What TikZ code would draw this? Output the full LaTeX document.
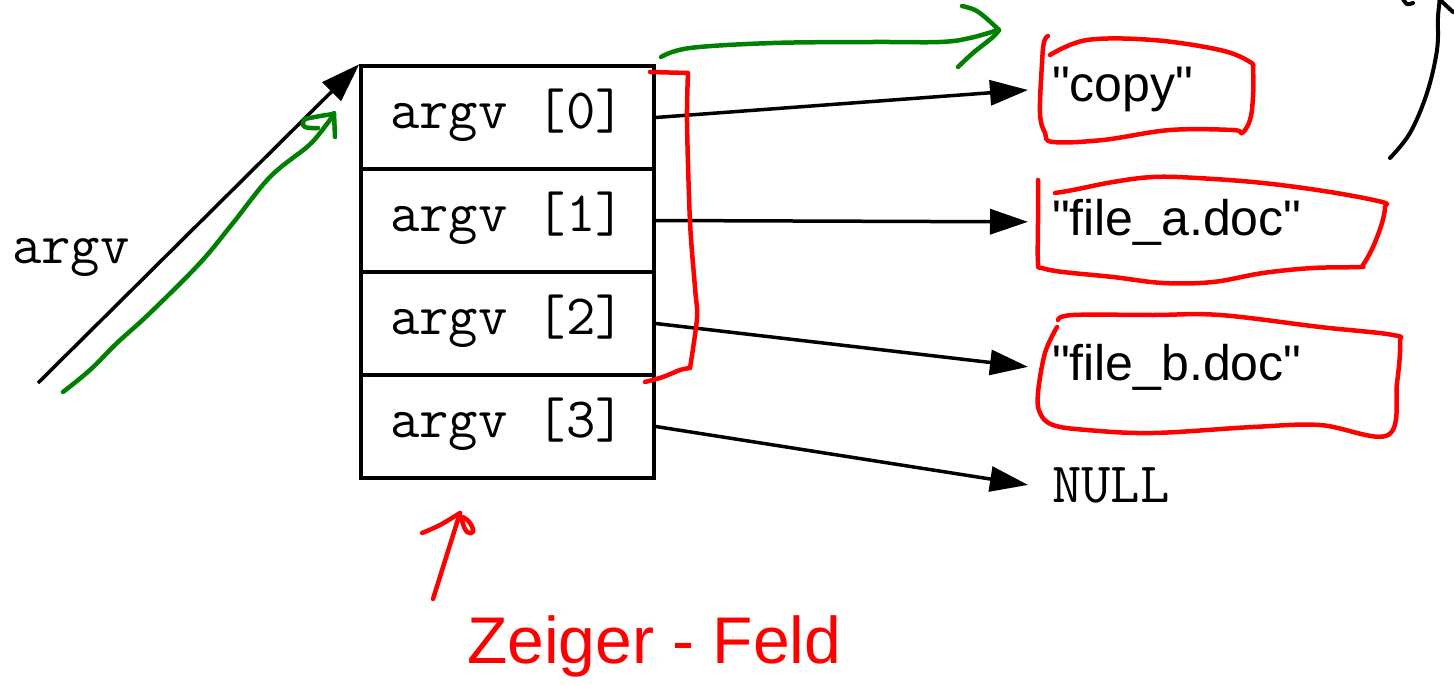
\documentclass[tikz,border=0pt]{standalone}
\usepackage{fontspec}
\setmainfont{Liberation Sans}[Ligatures=TeXOff]
\usetikzlibrary{arrows.meta}

\tikzset{
  cell/.style={draw, line width=3.5pt, minimum width=293pt, inner xsep=0pt,
    inner ysep=0pt, text height=62pt, text depth=41pt, font=\ttfamily\fontsize{57}{64}\selectfont},
  codetext/.style={inner sep=0pt, font=\ttfamily\fontsize{57}{64}\selectfont},
  strtext/.style={inner sep=0pt, outer xsep=24pt, font=\fontsize{50}{60}\selectfont},
  ptr/.style={line width=3.5pt, -{Triangle[length=38pt,width=25pt]}},
  redpen/.style={red, line width=4.5pt, line cap=round, line join=round},
  greenpen/.style={green!50!black, line width=4.5pt, line cap=round, line join=round},
  blackpen/.style={black, line width=4pt, line cap=round, line join=round},
}

\begin{document}
\begin{tikzpicture}[x=1pt, y=-1pt]
\useasboundingbox (0,0) rectangle (1454,685);

% pointer array cells
\node[cell] (r0) at (507.5,117.5) {argv [0]};
\node[cell] (r1) at (507.5,220.5) {argv [1]};
\node[cell] (r2) at (507.5,323.5) {argv [2]};
\node[cell] (r3) at (507.5,426.5) {argv [3]};

% the variable argv
\node[codetext, anchor=base west] (argv) at (12,263) {argv};
\coordinate (argvtail) at (38,383);
\draw[ptr, -{Triangle[length=39pt,width=26pt]}] (argvtail) -- (r0.north west);

% strings
\node[strtext, anchor=base west] (s0) at (1028,102) {"copy"};
\node[strtext, anchor=base west] (s1) at (1028,235) {"file\_a.doc"};
\node[strtext, anchor=base west] (s2) at (1028,380) {"file\_b.doc"};
\node[codetext, outer xsep=24pt, anchor=base west] (null) at (1028,502) {NULL};

\draw[ptr] (r0.east) -- (s0.west);
\draw[ptr] (r1.east) -- (s1.west);
\draw[ptr] (r2.east) -- (s2.west);
\draw[ptr] (r3.east) -- (null.west);

% red annotations: bracket around the used entries
\draw[redpen] (650,72) -- (688,73)
  plot[smooth, tension=0.5] coordinates {(688,73) (687,122) (690,222) (695,288) (697,318) (690,368)}
  plot[smooth, tension=0.5] coordinates {(690,368) (680,370) (663,377) (645,382)};

% red loops around the strings
\draw[redpen] plot[smooth, tension=0.6] coordinates {(1048,36) (1044,42) (1042,63) (1040,113) (1045,133) (1053,142)
  (1103,140) (1170,130) (1233,130) (1242,133) (1250,120) (1253,97) (1253,70) (1250,62)
  (1220,50) (1153,40) (1087,40) (1050,55)};
\draw[redpen] plot[smooth, tension=0.6] coordinates {(1038,180) (1038,220) (1038,263) (1042,268) (1063,272)
  (1113,277) (1163,283) (1213,282) (1263,273) (1313,268) (1360,267) (1363,265)
  (1373,247) (1382,223) (1385,207) (1382,202) (1330,192) (1263,183) (1197,178)
  (1153,177) (1113,182) (1073,190) (1055,193)};
\draw[redpen] plot[smooth, tension=0.6] coordinates {(1058,320) (1073,315) (1153,315) (1220,315) (1320,327)
  (1393,335) (1400,343) (1397,383) (1388,435) (1320,425) (1253,427) (1153,433)
  (1087,430) (1053,425) (1040,413) (1038,393) (1045,353) (1057,327)};

% red arrow and label below the array
\draw[redpen] (433,599) -- (460,513);
\draw[redpen] plot[smooth, tension=0.6] coordinates {(422,533) (440,525) (460,513)};
\draw[redpen] plot[smooth cycle, tension=0.7] coordinates {(462,517) (470,523) (473,532) (467,532) (463,524)};
\node[red, inner sep=0pt, anchor=base west, font=\fontsize{66}{70}\selectfont] (label) at (467,663) {Zeiger - Feld};

% green pen strokes
\draw[greenpen] plot[smooth, tension=0.6] coordinates {(63,392) (90,370) (117,343) (150,313) (200,263)
  (233,223) (270,177) (307,147) (320,133) (332,117)};
\draw[greenpen] (334,113) -- (335,137);
\draw[greenpen] plot[smooth, tension=0.7] coordinates {(318,128) (305,127) (304,120) (315,117) (333,114)};

\draw[greenpen] plot[smooth, tension=0.6] coordinates {(661,57) (690,48) (773,43) (873,42) (940,42) (970,38) (998,30)};
\draw[greenpen] plot[smooth, tension=0.6] coordinates {(962,6) (975,10) (986,18) (999,30)};
\draw[greenpen] plot[smooth, tension=0.6] coordinates {(999,30) (993,37) (973,53) (958,67)};

% black pen stroke at the upper right
\draw[blackpen] plot[smooth, tension=0.6] coordinates {(1390,158) (1410,133) (1427,93) (1437,50) (1438,17) (1440,-2)};
\draw[blackpen] (1438,-2) -- (1453,12);
\draw[blackpen] plot[smooth, tension=0.6] coordinates {(1403,-1) (1407,4) (1413,3)};
\end{tikzpicture}
\end{document}
